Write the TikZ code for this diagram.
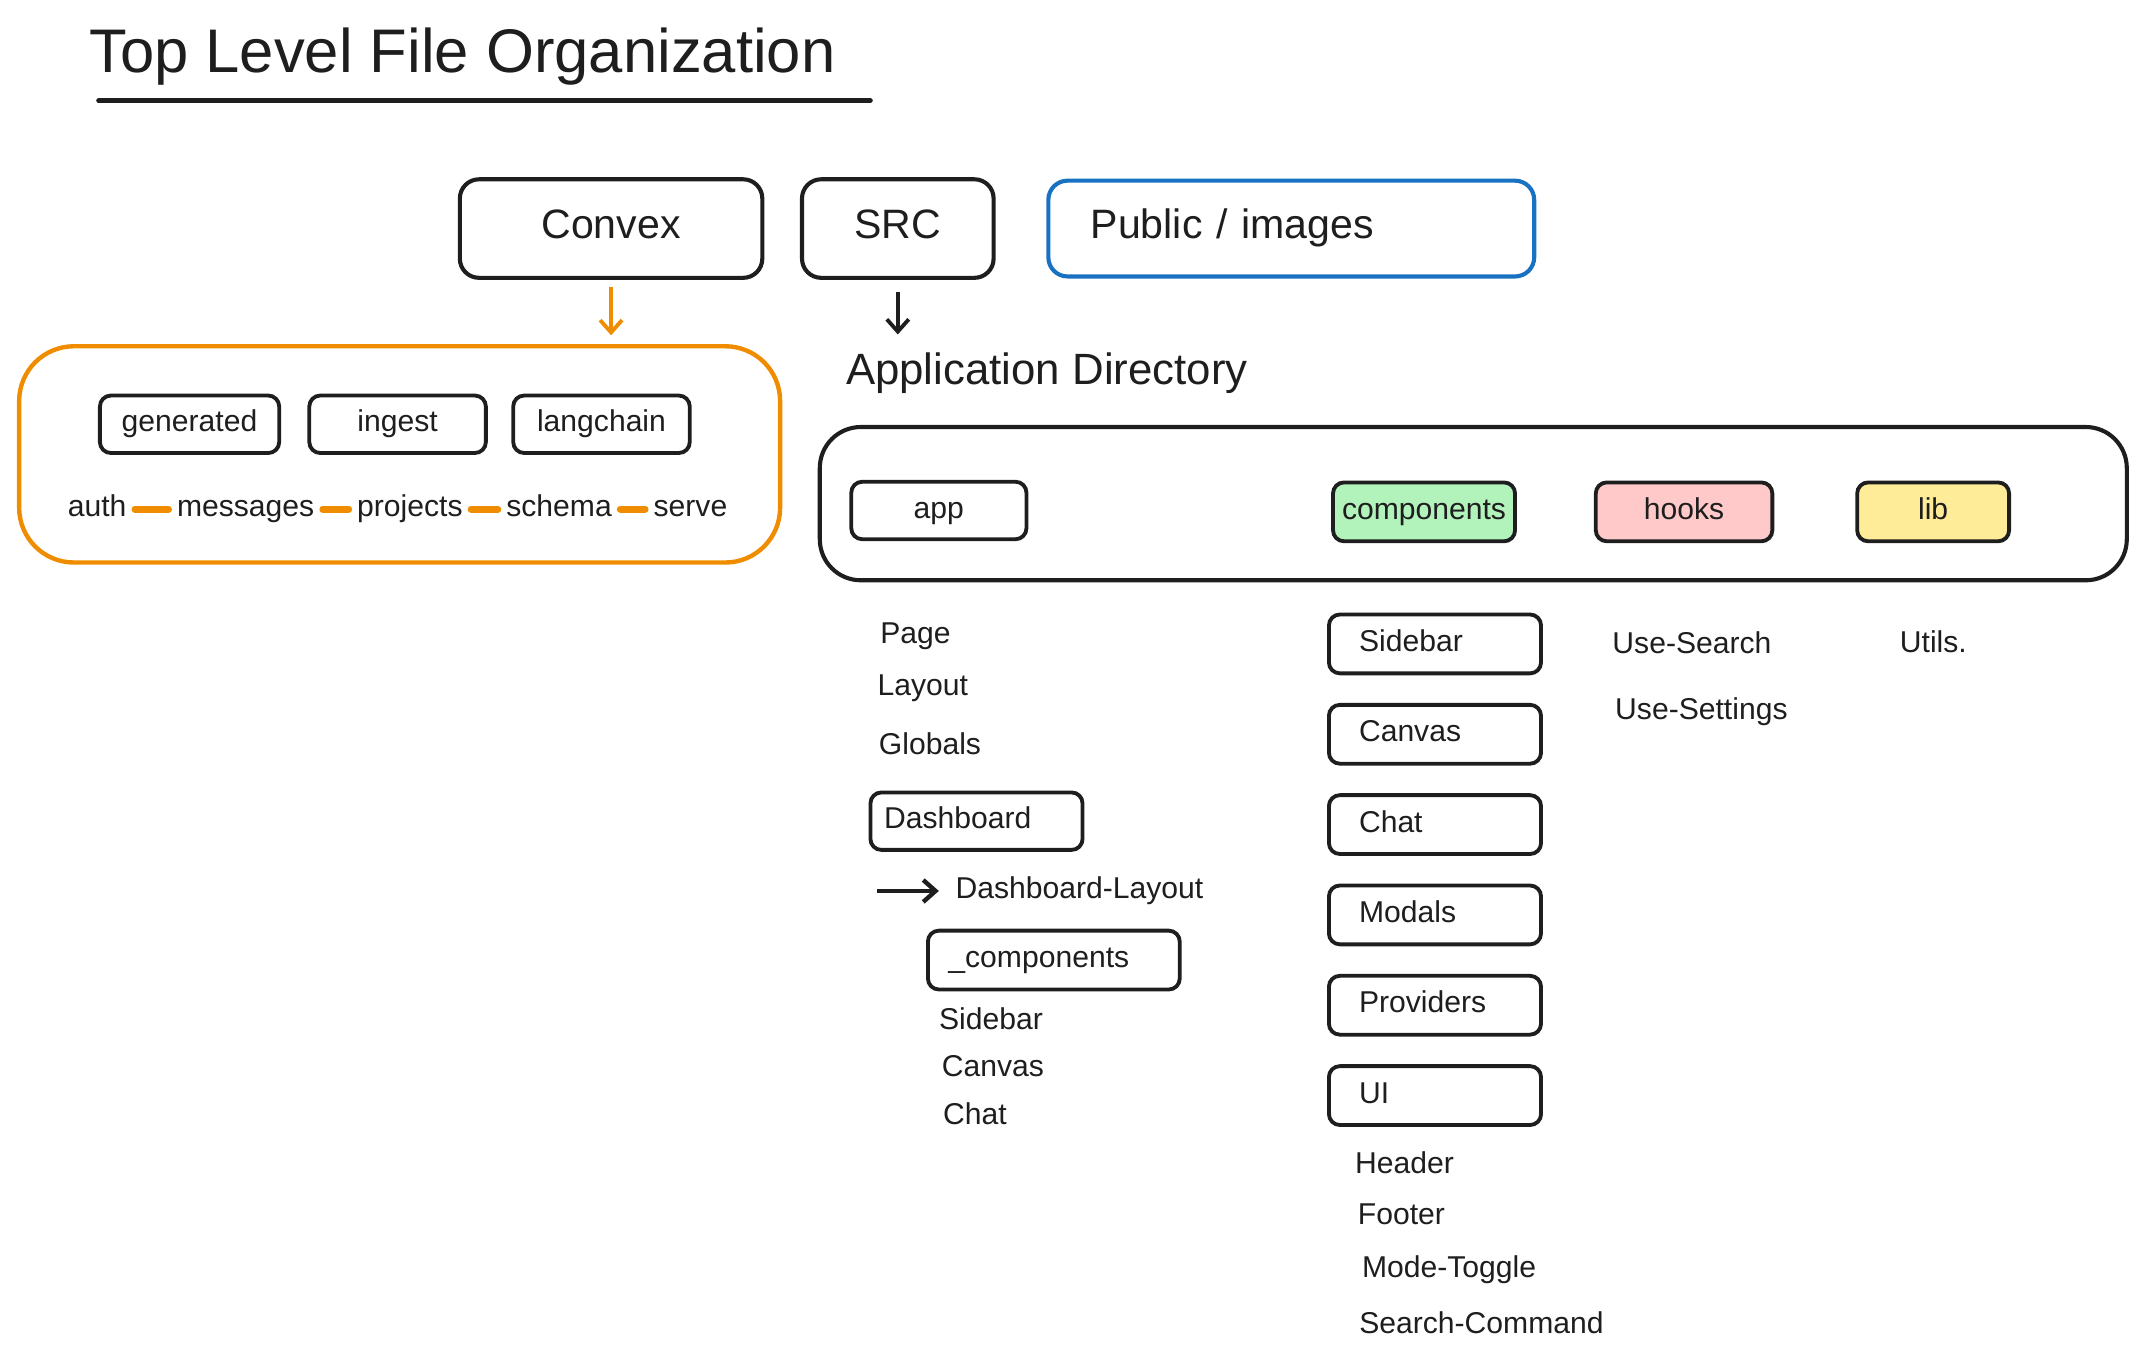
\documentclass[tikz,border=0pt]{standalone}
\usepackage{fontspec}
\setmainfont{Liberation Sans}
\usetikzlibrary{positioning, arrows.meta}
\definecolor{ink}{HTML}{1E1E1E}
\definecolor{convexorange}{HTML}{F08C00}
\definecolor{publicblue}{HTML}{1971C2}
\definecolor{compgreen}{HTML}{B2F2BB}
\definecolor{hookpink}{HTML}{FFC9C9}
\definecolor{libyellow}{HTML}{FFEC99}

\begin{document}
\begin{tikzpicture}[x=1pt, y=-1pt,
                    topnode/.style={rectangle, rounded corners=14pt, draw=ink, line width=3pt, minimum height=72pt, outer sep=0pt, text=ink, font=\fontsize{30}{36}\selectfont, text height=21pt, text depth=6pt},
                    groupbox/.style={rectangle, draw=ink, line width=3pt, outer sep=0pt},
                    filebox/.style={rectangle, rounded corners=8pt, draw=ink, line width=2.8pt, minimum height=43pt, outer sep=0pt, text=ink, font=\fontsize{22}{26}\selectfont, text height=15.4pt, text depth=4.4pt},
                    listbox/.style={filebox, anchor=west, align=left},
                    itemtext/.style={inner sep=0pt, anchor=west, text=ink, font=\fontsize{22}{26}\selectfont, text height=15.4pt, text depth=4.4pt},
                    dirarrow/.style={line width=2.8pt, -{Straight Barb[length=9pt, width=16pt]}},
                    dashlink/.style={convexorange, line width=5pt, line cap=round, shorten <=6pt, shorten >=6pt}
                ]
                    \useasboundingbox (0,0) rectangle (1560,993.7);

                    \node[inner sep=0pt, anchor=west, text=ink, font=\fontsize{45}{54}\selectfont, text height=31pt, text depth=9pt] (title) at (65,42) {Top Level File Organization};
                    \coordinate (rulestart) at (72,73.5);
                    \coordinate (ruleend) at (636,73.5);
                    \draw[ink, line width=3.4pt, line cap=round] (rulestart) -- (ruleend);

                    \node[topnode, minimum width=221pt] (convex) at (446.5,167) {Convex};
                    \node[topnode, minimum width=140pt] (src) [right=29pt of convex] {SRC};
                    \node[topnode, draw=publicblue, minimum height=70pt, text width=293pt, inner xsep=31pt, align=left] (public) [right=40pt of src] {Public / images};

                    \node[groupbox, draw=convexorange, line width=3.2pt, rounded corners=40pt, minimum width=556pt, minimum height=158pt] (convexdir) at (292,332) {};
                    \node[filebox, minimum width=131pt, minimum height=42pt] (generated) at (138.5,310) {generated};
                    \node[filebox, minimum width=129pt, minimum height=42pt] (ingest) [right=22pt of generated] {ingest};
                    \node[filebox, minimum width=129pt, minimum height=42pt] (langchain) [right=20pt of ingest] {langchain};
                    \node[itemtext, anchor=center] (auth) at (71,372) {auth};
                    \node[itemtext, anchor=center] (messages) at (179.5,372) {messages};
                    \node[itemtext, anchor=center] (projects) at (299.5,372) {projects};
                    \node[itemtext, anchor=center] (schema) at (408.5,372) {schema};
                    \node[itemtext, anchor=center] (serve) at (504.5,372) {serve};
                    \draw[dashlink] (auth) -- (messages);
                    \draw[dashlink] (messages) -- (projects);
                    \draw[dashlink] (projects) -- (schema);
                    \draw[dashlink] (schema) -- (serve);
                    \draw[dirarrow, convexorange, shorten <=7pt, shorten >=8pt] (convex.south) -- (convex.south |- convexdir.north);

                    \node[itemtext, font=\fontsize{32}{38}\selectfont, text height=22.4pt, text depth=6.4pt] (appdir) at (618,273) {Application Directory};
                    \draw[dirarrow, ink, shorten <=10pt, shorten >=14pt] (src.south) -- (src.south |- appdir.north);

                    \node[groupbox, rounded corners=30pt, minimum width=955pt, minimum height=112pt] (appbox) at (1076.5,368) {};
                    \node[filebox, minimum width=128pt, minimum height=42pt] (app) at (686,373) {app};
                    \node[filebox, fill=compgreen, minimum width=133pt] (components) at (1040.5,374) {components};
                    \node[filebox, fill=hookpink, minimum width=129pt] (hooks) [right=59pt of components] {hooks};
                    \node[filebox, fill=libyellow, minimum width=111pt] (lib) [right=62pt of hooks] {lib};

                    \node[itemtext] (page) at (643,465) {Page};
                    \node[itemtext] (layout) at (641,503) {Layout};
                    \node[itemtext] (globals) at (642,546) {Globals};
                    \node[listbox, text width=135pt, inner xsep=10pt, minimum height=42pt] (dashboard) at (636,600) {Dashboard};
                    \coordinate (layouttail) at (641,651);
                    \node[itemtext] (dashlayout) at (698,651) {Dashboard-Layout};
                    \draw[dirarrow, ink, line width=3.2pt, shorten >=12pt] (layouttail) -- (dashlayout.west);
                    \node[listbox, text width=154pt, inner xsep=15pt] (subcomponents) at (678,701.5) {\_components};
                    \node[itemtext] (dashsidebar) at (686,747) {Sidebar};
                    \node[itemtext] (dashcanvas) at (688,781) {Canvas};
                    \node[itemtext] (dashchat) at (689,816) {Chat};

                    \node[listbox, text width=111pt, inner xsep=22pt] (sidebar) at (971,470.5) {Sidebar};
                    \node[listbox, text width=111pt, inner xsep=22pt] (canvas) [below=23pt of sidebar] {Canvas};
                    \node[listbox, text width=111pt, inner xsep=22pt] (chat) [below=23pt of canvas] {Chat};
                    \node[listbox, text width=111pt, inner xsep=22pt] (modals) [below=23pt of chat] {Modals};
                    \node[listbox, text width=111pt, inner xsep=22pt] (providers) [below=23pt of modals] {Providers};
                    \node[listbox, text width=111pt, inner xsep=22pt] (ui) [below=23pt of providers] {UI};
                    \node[itemtext] (header) at (990,852) {Header};
                    \node[itemtext] (footer) at (992,889) {Footer};
                    \node[itemtext] (modetoggle) at (995,928) {Mode-Toggle};
                    \node[itemtext] (searchcommand) at (993,969) {Search-Command};

                    \node[itemtext] (usesearch) at (1178,472) {Use-Search};
                    \node[itemtext] (usesettings) at (1180,520) {Use-Settings};
                    \node[itemtext] (utils) at (1388,471) {Utils.};
                \end{tikzpicture}
\end{document}
